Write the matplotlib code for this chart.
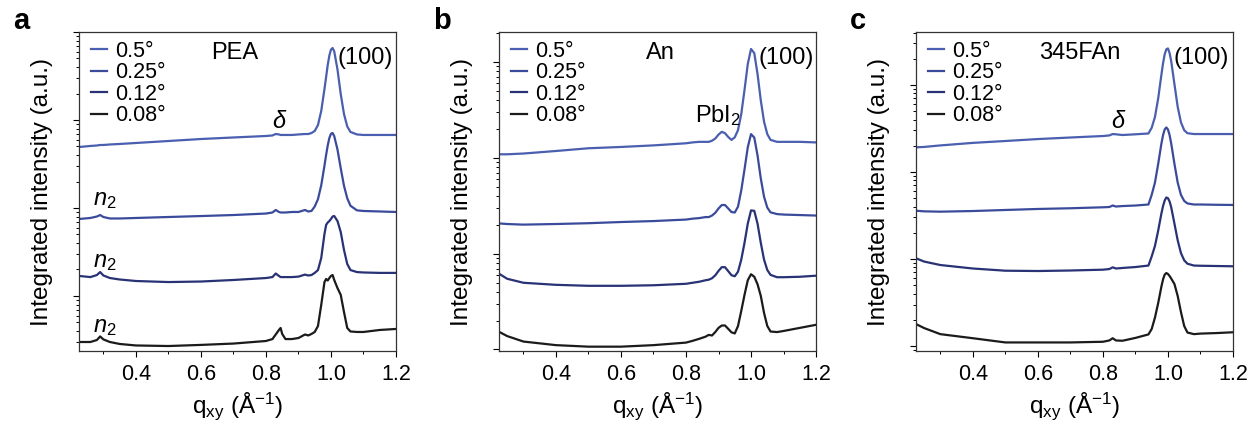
import numpy as np
import matplotlib
matplotlib.use("Agg")
import matplotlib.pyplot as plt
from matplotlib.ticker import MultipleLocator, LogLocator, NullFormatter

plt.rcParams['font.family'] = ['Liberation Sans', 'DejaVu Sans']
plt.rcParams['mathtext.fontset'] = 'custom'
plt.rcParams['mathtext.rm'] = 'Liberation Sans'
plt.rcParams['mathtext.it'] = 'Liberation Sans:italic'

angles = ['0.5°', '0.25°', '0.12°', '0.08°']
colors = ['#4a5fb0', '#3b4b9c', '#293275', '#1b1b1b']

# PEA
q_pea = [0.225, 0.26, 0.28, 0.29, 0.30, 0.32, 0.35, 0.40, 0.50, 0.60, 0.70, 0.80, 0.82, 0.83,
         0.84, 0.845, 0.85, 0.86, 0.88, 0.90, 0.92, 0.93, 0.94, 0.95, 0.96, 0.97, 0.98, 0.985,
         0.99, 0.995, 1.00, 1.005, 1.01, 1.02, 1.03, 1.04, 1.05, 1.06, 1.08, 1.10, 1.15, 1.20]
pea_050 = [493, 507, 513, 520, 520, 527, 534, 548, 577, 608, 633, 658, 667, 693,
           685, 676, 676, 676, 676, 685, 693, 693, 711, 750, 877, 1265, 2250, 3080,
           4220, 5400, 6310, 6580, 6030, 3750, 1970, 1170, 844, 731, 685, 676, 676, 676]
pea_025 = [75.0, 77, 80, 83.2, 79, 76, 76, 77, 79, 81, 83.2, 86.5, 88.9, 94.9,
           90.1, 88.9, 88.9, 88.9, 90.1, 90.1, 94.9, 91.3, 92.5, 104, 126, 181, 303, 400,
           514, 624, 698, 711, 656, 462, 283, 179, 129, 106, 94, 92.5, 91.3, 90.1]
pea_012 = [16.9, 16.4, 17.3, 18.7, 17.1, 16.0, 15.4, 14.8, 14.4, 14.6, 15.2, 16.0, 16.4, 18.0,
           16.9, 16.4, 16.4, 16.4, 16.4, 16.6, 17.5, 17.1, 17.3, 18.3, 19.7, 27.0, 50.7, 64.2,
           68.4, 71.1, 75.0, 80.0, 81.1, 71.1, 53.3, 33.4, 23.1, 19.7, 18.7, 18.5, 18.3, 18.3]
pea_008 = [3.00, 3.00, 3.16, 3.47, 3.21, 3.00, 2.85, 2.74, 2.70, 2.78, 2.88, 3.08, 3.24, 3.65,
           4.11, 4.33, 3.70, 3.24, 3.24, 3.33, 3.65, 3.56, 3.70, 3.90, 4.56, 7.91, 14.4, 15.6,
           15.0, 16.0, 16.9, 17.3, 15.2, 12.3, 10.3, 6.58, 4.33, 3.95, 3.90, 3.90, 4.11, 4.22]

# An
q_an = [0.225, 0.25, 0.30, 0.40, 0.50, 0.60, 0.70, 0.80, 0.82, 0.84, 0.86, 0.87, 0.88, 0.89,
        0.90, 0.91, 0.92, 0.93, 0.94, 0.95, 0.96, 0.97, 0.98, 0.99, 1.00, 1.01, 1.02, 1.03,
        1.04, 1.05, 1.06, 1.08, 1.10, 1.15, 1.20]
an_050 = [109, 109, 111, 118, 126, 130, 135, 142, 145, 147, 147, 147, 151, 159,
          175, 187, 181, 165, 154, 164, 195, 287, 513, 953, 1370, 1240, 752, 399,
          239, 177, 154, 147, 147, 147, 145]
an_025 = [20.7, 20.4, 20.1, 20.4, 20.8, 21.4, 21.9, 22.7, 23.2, 23.5, 24.1, 24.1, 25.0, 26.7,
          29.6, 32.2, 32.2, 29.6, 27.2, 26.9, 31.0, 45.9, 75.9, 129, 177, 163, 106, 61.1,
          39.3, 30.3, 27.0, 25.9, 25.6, 25.3, 25.0]
an_012 = [6.18, 5.47, 4.97, 4.73, 4.62, 4.62, 4.68, 4.85, 4.97, 5.09, 5.28, 5.35, 5.54, 5.94,
          6.61, 7.23, 7.23, 6.56, 5.96, 5.81, 6.49, 8.67, 13.0, 20.6, 28.3, 28.0, 20.6, 13.0,
          8.67, 6.76, 6.01, 5.68, 5.68, 5.74, 5.89]
an_008 = [1.53, 1.38, 1.21, 1.11, 1.07, 1.07, 1.11, 1.18, 1.23, 1.29, 1.36, 1.42, 1.40, 1.52,
          1.68, 1.78, 1.78, 1.64, 1.51, 1.47, 1.76, 2.53, 3.72, 5.28, 6.10, 5.74, 4.80, 3.63,
          2.41, 1.76, 1.54, 1.52, 1.56, 1.68, 1.81]

# 345FAn
q_fan = [0.225, 0.25, 0.30, 0.40, 0.50, 0.60, 0.70, 0.80, 0.82, 0.83, 0.84, 0.86, 0.90, 0.94,
         0.95, 0.96, 0.97, 0.98, 0.985, 0.99, 0.995, 1.00, 1.005, 1.01, 1.02, 1.03, 1.04, 1.05,
         1.06, 1.08, 1.10, 1.15, 1.20]
fan_050 = [192, 194, 202, 216, 227, 239, 249, 259, 263, 273, 271, 266, 271, 277,
           322, 428, 700, 1320, 1780, 2250, 2570, 2630, 2330, 1880, 1020, 560, 372, 302,
           279, 273, 273, 273, 273]
fan_025 = [35.9, 35.3, 35.0, 35.6, 36.6, 37.6, 38.3, 39.3, 39.6, 41.2, 40.1, 40.6, 41.2, 42.3,
           54.6, 75.5, 124, 213, 266, 308, 325, 308, 266, 213, 124, 75.5, 54.6, 46.5,
           43.5, 42.3, 42.3, 42.0, 41.8]
fan_012 = [10.2, 9.35, 8.53, 7.78, 7.34, 7.28, 7.38, 7.54, 7.67, 8.03, 7.78, 7.89, 8.09, 8.41,
           10.7, 14.1, 21.2, 33.5, 40.7, 47.0, 50.9, 50.0, 45.9, 39.4, 25.5, 16.4, 11.7, 9.66,
           8.83, 8.41, 8.37, 8.31, 8.25]
fan_008 = [1.79, 1.61, 1.37, 1.23, 1.10, 1.10, 1.10, 1.12, 1.16, 1.23, 1.16, 1.15, 1.24, 1.36,
           1.57, 2.12, 3.12, 4.85, 5.85, 6.62, 6.90, 6.73, 6.38, 5.97, 5.16, 3.76, 2.46, 1.70,
           1.43, 1.37, 1.39, 1.41, 1.44]

panels = [
    ('a', 'PEA', q_pea, [pea_050, pea_025, pea_012, pea_008], (2.37, 10000), 0.0631, 0.416, 0.817),
    ('b', 'An', q_an, [an_050, an_025, an_012, an_008], (0.964, 2060), 0.3986, 0.464, 0.817),
    ('c', '345FAn', q_fan, [fan_050, fan_025, fan_012, fan_008], (0.877, 4060), 0.7316, 0.388, 0.811),
]

fig = plt.figure(figsize=(12.52, 4.25), dpi=100)

for letter, name, q, series, ylim, left, name_x, hkl_x in panels:
    ax = fig.add_axes([left, 0.1741, 0.2532, 0.7506])
    for ys, lab, c in zip(series, angles, colors):
        ax.plot(q, ys, color=c, lw=1.6, label=lab)
    ax.set_yscale('log')
    ax.set_xlim(0.225, 1.2)
    ax.set_ylim(*ylim)
    ax.xaxis.set_minor_locator(MultipleLocator(0.1))
    ax.set_xticks([0.4, 0.6, 0.8, 1.0, 1.2])
    ax.yaxis.set_major_locator(LogLocator(base=10))
    ax.yaxis.set_minor_locator(LogLocator(base=10, subs=np.arange(2, 10)))
    ax.yaxis.set_major_formatter(NullFormatter())
    ax.yaxis.set_minor_formatter(NullFormatter())
    ax.tick_params(which='major', length=4.5, width=0.8, labelsize=15.5, pad=5)
    ax.tick_params(which='minor', length=2.5, width=0.7)
    for s in ax.spines.values():
        s.set_linewidth(0.9)
        s.set_color('#333333')
    ax.set_xlabel(r'q$_{\mathrm{xy}}$ (Å$^{\mathrm{-1}}$)', fontsize=17.5, labelpad=4)
    ax.set_ylabel('Integrated intensity (a.u.)', fontsize=17.5, labelpad=9)

    ax.legend(loc='upper left', bbox_to_anchor=(0.038, 0.972), frameon=False,
              fontsize=15.5, handlelength=0.75, handletextpad=0.35,
              labelspacing=0.02, borderpad=0, borderaxespad=0)

    ax.text(name_x, 0.934, name, transform=ax.transAxes, fontsize=17, ha='left', va='center')
    ax.text(hkl_x, 0.918, '(100)', transform=ax.transAxes, fontsize=17, ha='left', va='center')
    fig.text(left - 0.053, 0.932, letter, fontsize=21, fontweight='bold', va='baseline')

    if name == 'PEA':
        ax.text(0.631, 0.718, 'δ', transform=ax.transAxes, fontsize=17, style='italic',
                ha='center', va='center')
        for yy in [0.473, 0.279, 0.075]:
            ax.text(0.044, yy, '$n_2$', transform=ax.transAxes, fontsize=17,
                    ha='left', va='center')
    elif name == 'An':
        ax.text(0.618, 0.739, 'PbI$_2$', transform=ax.transAxes, fontsize=17,
                ha='left', va='center')
    else:
        ax.text(0.637, 0.718, 'δ', transform=ax.transAxes, fontsize=17, style='italic',
                ha='center', va='center')

fig.savefig('out.png', dpi=100)
